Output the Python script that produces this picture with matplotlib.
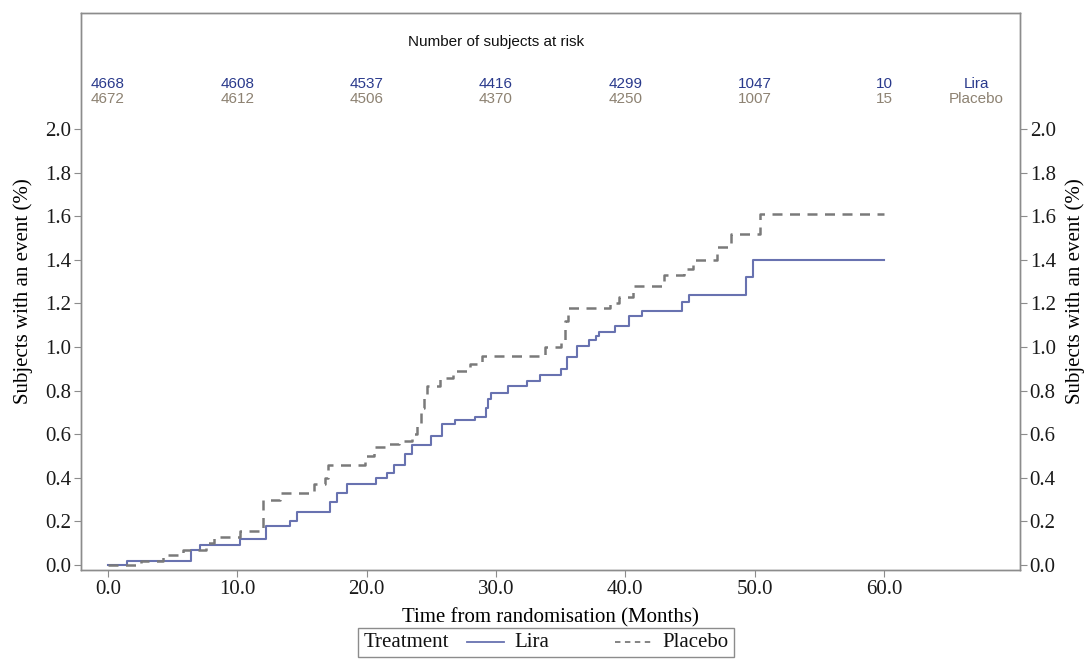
import matplotlib
matplotlib.use("Agg")
import matplotlib.pyplot as plt
from matplotlib.ticker import FormatStrFormatter
from matplotlib.lines import Line2D
from matplotlib.offsetbox import AnchoredOffsetbox, HPacker, TextArea, DrawingArea

# Kaplan-Meier style cumulative event curves
lira_t = [0, 1.5, 6.4, 7.1, 10.2, 12.2, 14.1, 14.6, 17.2, 17.7, 18.5, 20.7, 21.6, 22.1,
          23.0, 23.5, 25.0, 25.8, 26.8, 28.4, 29.2, 29.4, 29.6, 30.9, 32.4, 33.4, 35.0,
          35.5, 36.3, 37.2, 37.7, 38.0, 39.2, 40.3, 41.3, 44.4, 44.9, 49.3, 49.9, 60]
lira_v = [0, 0.02, 0.07, 0.09, 0.12, 0.18, 0.20, 0.245, 0.29, 0.33, 0.37, 0.40, 0.42, 0.46,
          0.51, 0.55, 0.59, 0.645, 0.665, 0.68, 0.72, 0.76, 0.79, 0.82, 0.845, 0.87, 0.90,
          0.955, 1.005, 1.03, 1.05, 1.07, 1.095, 1.14, 1.165, 1.205, 1.24, 1.32, 1.40, 1.40]

plac_t = [0, 2.6, 4.3, 5.8, 7.6, 8.2, 10.2, 11.8, 12.0, 13.3, 15.9, 16.8, 17.0, 19.9,
          20.6, 21.6, 22.5, 23.5, 23.9, 24.2, 24.4, 24.7, 25.7, 26.7, 28.0, 28.9, 33.8,
          35.0, 35.3, 35.6, 38.8, 39.5, 40.6, 43.0, 44.5, 45.2, 47.1, 48.2, 50.4, 60]
plac_v = [0, 0.02, 0.045, 0.07, 0.10, 0.13, 0.155, 0.17, 0.30, 0.33, 0.37, 0.40, 0.46, 0.50,
          0.54, 0.555, 0.57, 0.60, 0.65, 0.72, 0.77, 0.82, 0.86, 0.89, 0.92, 0.96, 1.00,
          1.03, 1.12, 1.18, 1.20, 1.23, 1.28, 1.33, 1.36, 1.40, 1.46, 1.52, 1.61, 1.61]

# number at risk table
risk_times = [0, 10, 20, 30, 40, 50, 60]
risk_lira = [4668, 4608, 4537, 4416, 4299, 1047, 10]
risk_plac = [4672, 4612, 4506, 4370, 4250, 1007, 15]

lira_col = "#6872b0"
plac_col = "#7a7a7a"
lira_txt = "#2a3a8c"
plac_txt = "#8d8272"
frame_col = "#8c8c8c"

serif = "Liberation Serif"
sans = "Liberation Sans"

fig = plt.figure(figsize=(10.87, 6.61), dpi=100)
ax = fig.add_axes([81 / 1087, 1 - 570 / 661, 939 / 1087, 557 / 661])

ax.step(lira_t, lira_v, where="post", color=lira_col, lw=1.5)
ax.step(plac_t, plac_v, where="post", color=plac_col, lw=1.8, linestyle=(0, (4, 3)))

ax.set_xlim(-2.07, 70.5)
ax.set_ylim(-0.023, 2.532)
ax.set_xticks(range(0, 61, 10))
ax.set_yticks([i / 5 for i in range(11)])
ax.xaxis.set_major_formatter(FormatStrFormatter("%.1f"))
ax.yaxis.set_major_formatter(FormatStrFormatter("%.1f"))

ax2 = ax.twinx()
ax2.set_ylim(ax.get_ylim())
ax2.set_yticks([i / 5 for i in range(11)])
ax2.yaxis.set_major_formatter(FormatStrFormatter("%.1f"))

for a in (ax, ax2):
    a.tick_params(direction="out", length=5, width=0.8, color=frame_col, pad=2,
                  labelsize=15, labelcolor="#1a1a1a")
    for lab in a.get_xticklabels() + a.get_yticklabels():
        lab.set_family(serif)
    for s in a.spines.values():
        s.set_color(frame_col)
        s.set_linewidth(1.0)

ax.set_xlabel("Time from randomisation (Months)", family=serif, fontsize=15, labelpad=7)
ax.set_ylabel("Subjects with an event (%)", family=serif, fontsize=15, labelpad=9)
ax2.set_ylabel("Subjects with an event (%)", family=serif, fontsize=15, labelpad=7)

# risk table inside the frame
ax.text(30, 2.40, "Number of subjects at risk", ha="center", va="center",
        family=sans, fontsize=11, color="#111111")
for t, nl, npl in zip(risk_times, risk_lira, risk_plac):
    ax.text(t, 2.206, str(nl), ha="center", va="center", family=sans, fontsize=11, color=lira_txt)
    ax.text(t, 2.138, str(npl), ha="center", va="center", family=sans, fontsize=11, color=plac_txt)
ax.text(67.1, 2.206, "Lira", ha="center", va="center", family=sans, fontsize=11, color=lira_txt)
ax.text(67.1, 2.138, "Placebo", ha="center", va="center", family=sans, fontsize=11, color=plac_txt)


# legend row below the axis title
def sample(**style):
    da = DrawingArea(27, 10, 0, 0)
    da.add_artist(Line2D([0, 27], [5, 5], **style))
    return da


tp = dict(family=serif, fontsize=15, color="#111111")
entry_lira = HPacker(children=[sample(color=lira_col, lw=1.3), TextArea("Lira", textprops=tp)],
                     align="center", pad=0, sep=7)
entry_plac = HPacker(children=[sample(color=plac_col, lw=1.3, linestyle=(0, (3, 2.5))),
                               TextArea("Placebo", textprops=tp)],
                     align="center", pad=0, sep=7)
row = HPacker(children=[TextArea("Treatment", textprops=tp), entry_lira,
                        DrawingArea(22, 10, 0, 0), entry_plac],
              align="center", pad=0, sep=13)
box = AnchoredOffsetbox(loc="upper center", child=row, pad=0.35, borderpad=0, frameon=True,
                        bbox_to_anchor=(546 / 1087, 1 - 628 / 661),
                        bbox_transform=fig.transFigure)
box.patch.set_boxstyle("square,pad=0")
box.patch.set_edgecolor(frame_col)
box.patch.set_linewidth(1.0)
fig.add_artist(box)

fig.savefig("out.png", dpi=100)
